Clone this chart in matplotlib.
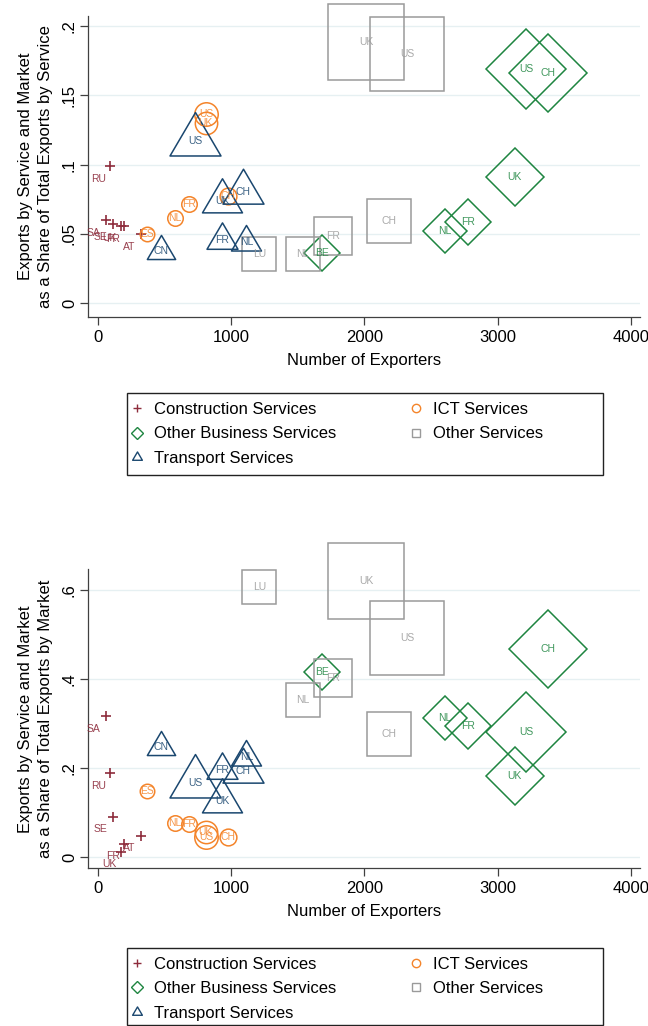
import numpy as np
import matplotlib
matplotlib.use('Agg')
import matplotlib.pyplot as plt
from matplotlib.path import Path
from matplotlib.lines import Line2D
from matplotlib.patches import Rectangle

plt.rcParams['font.family'] = ['Liberation Sans', 'DejaVu Sans']

# exporters per service and country are shared by both panels
cons_ctry = ['SA', 'RU', 'SE', 'UK', 'FR', 'AT']
cons_exporters = [60, 92, 112, 175, 200, 328]
cons_by_service = [0.060, 0.099, 0.057, 0.056, 0.0555, 0.0498]
cons_by_market = [0.3175, 0.189, 0.0906, 0.012, 0.030, 0.048]
cons_weight = [1.0, 1.2, 1.0, 1.0, 1.0, 1.0]

ict_ctry = ['US', 'UK', 'CH', 'FR', 'NL', 'ES']
ict_exporters = [815, 810, 975, 687, 580, 370]
ict_by_service = [0.1363, 0.130, 0.0776, 0.0714, 0.0613, 0.0498]
ict_by_market = [0.046, 0.056, 0.0456, 0.074, 0.0778, 0.149]
ict_weight = [5.5, 5.0, 2.8, 2.4, 2.4, 2.1]

obs_ctry = ['US', 'CH', 'UK', 'FR', 'NL', 'BE']
obs_exporters = [3213, 3378, 3126, 2776, 2606, 1680]
obs_by_service = [0.1688, 0.1659, 0.0909, 0.0584, 0.0524, 0.036]
obs_by_market = [0.282, 0.469, 0.1827, 0.295, 0.3137, 0.4164]
obs_weight = [64, 61, 34, 21, 20, 13.4]

oth_ctry = ['UK', 'US', 'CH', 'FR', 'NL', 'LU']
oth_exporters = [2014, 2320, 2183, 1767, 1538, 1212]
oth_by_service = [0.1887, 0.180, 0.0595, 0.0484, 0.0358, 0.0359]
oth_by_market = [0.622, 0.4935, 0.2775, 0.403, 0.353, 0.607]
oth_weight = [59, 56, 18.5, 15.2, 11.6, 11.6]

trn_ctry = ['US', 'UK', 'CH', 'FR', 'NL', 'CN']
trn_exporters = [733, 935, 1092, 935, 1115, 472]
trn_by_service = [0.117, 0.0735, 0.0802, 0.0453, 0.0441, 0.0377]
trn_by_market = [0.167, 0.1265, 0.195, 0.197, 0.226, 0.247]
trn_weight = [26, 16, 16.8, 9.6, 9.0, 8.0]

# triangle with its centroid on the data point
tri = Path([(0, 0.5), (-0.44, -0.25), (0.44, -0.25), (0, 0.5)],
           [Path.MOVETO, Path.LINETO, Path.LINETO, Path.CLOSEPOLY])

# marker, colour, scale from sqrt(weight) to markersize
series = [
    ('Construction Services', '+', '#8e2c3c', 7.2,
     cons_ctry, cons_exporters, cons_by_service, cons_by_market, cons_weight),
    ('ICT Services', 'o', '#f4842a', 7.2,
     ict_ctry, ict_exporters, ict_by_service, ict_by_market, ict_weight),
    ('Other Business Services', 'D', '#1e8540', 7.2 / 1.414,
     obs_ctry, obs_exporters, obs_by_service, obs_by_market, obs_weight),
    ('Other Services', 's', '#9a9a9a', 7.2,
     oth_ctry, oth_exporters, oth_by_service, oth_by_market, oth_weight),
    ('Transport Services', tri, '#1a476f', 7.2 / 0.88,
     trn_ctry, trn_exporters, trn_by_service, trn_by_market, trn_weight),
]

fig = plt.figure(figsize=(6.48, 10.26), dpi=100)
W, H = 648, 1026


def add_panel(top, bottom, ylim, yticks, yticklabels, ylabel, which):
    ax = fig.add_axes([88 / W, 1 - bottom / H, (640 - 88) / W, (bottom - top) / H])
    for name, mk, col, k, ctry, xs, ys_s, ys_m, wt in series:
        ys = ys_s if which == 'service' else ys_m
        ms = k * np.sqrt(wt)
        for c, x, y, m in zip(ctry, xs, ys, ms):
            ax.plot(x, y, ls='none', marker=mk, ms=m, mfc='none', mec=col,
                    mew=1.1 if mk != '+' else 1.2, clip_on=False, zorder=3)
            if mk == '+':
                ax.annotate(c, (x, y), xytext=(-8.5, -9), textcoords='offset points',
                            ha='center', va='center', fontsize=7.5, color=col, alpha=0.9)
            else:
                ax.text(x, y, c, ha='center', va='center', fontsize=7.5,
                        color=col, alpha=0.85, zorder=4)
    ax.set_xlim(-73, 4067)
    ax.set_ylim(*ylim)
    ax.set_xticks([0, 1000, 2000, 3000, 4000])
    ax.set_yticks(yticks)
    ax.set_yticklabels(yticklabels, rotation=90, va='center')
    ax.tick_params(labelsize=12, length=6, width=0.9, color='#404040', pad=3)
    ax.tick_params(axis='y', pad=2)
    for s in ['top', 'right']:
        ax.spines[s].set_visible(False)
    for s in ['left', 'bottom']:
        ax.spines[s].set_color('#404040')
        ax.spines[s].set_linewidth(0.9)
    ax.grid(axis='y', color='#e6f0f2', lw=1)
    ax.set_axisbelow(True)
    ax.set_xlabel('Number of Exporters', fontsize=12, labelpad=6)
    ax.set_ylabel(ylabel, fontsize=12, linespacing=1.35)
    ax.yaxis.set_label_coords(-0.064, 0.5)
    return ax


def add_legend(ax, top, bottom):
    handles = []
    for name, mk, col, k, *_ in series:
        handles.append(Line2D([], [], ls='none', marker=mk, mfc='none', mec=col,
                              ms=6 if mk is not tri else 8, mew=1, label=name))
    order = [0, 2, 4, 1, 3]
    ax.legend([handles[i] for i in order], [handles[i].get_label() for i in order],
              ncol=2, loc='upper left', bbox_to_anchor=(129 / W, 1 - (top + 9) / H),
              bbox_transform=fig.transFigure, frameon=False, fontsize=12,
              handlelength=1.0, handletextpad=0.5, columnspacing=4.3,
              labelspacing=0.56, borderpad=0, borderaxespad=0)
    fig.add_artist(Rectangle((127 / W, 1 - bottom / H), (603 - 127) / W, (bottom - top) / H,
                             transform=fig.transFigure, fill=False, ec='#222222', lw=1))


ax1 = add_panel(16, 317, (-0.0099, 0.2072), [0, .05, .1, .15, .2],
                ['0', '.05', '.1', '.15', '.2'],
                'Exports by Service and Market\nas a Share of Total Exports by Service', 'service')
add_legend(ax1, 393, 475)

ax2 = add_panel(569.3, 868.3, (-0.0247, 0.6472), [0, .2, .4, .6],
                ['0', '.2', '.4', '.6'],
                'Exports by Service and Market\nas a Share of Total Exports by Market', 'market')
add_legend(ax2, 948, 1025)

fig.savefig('out.png', dpi=100)
